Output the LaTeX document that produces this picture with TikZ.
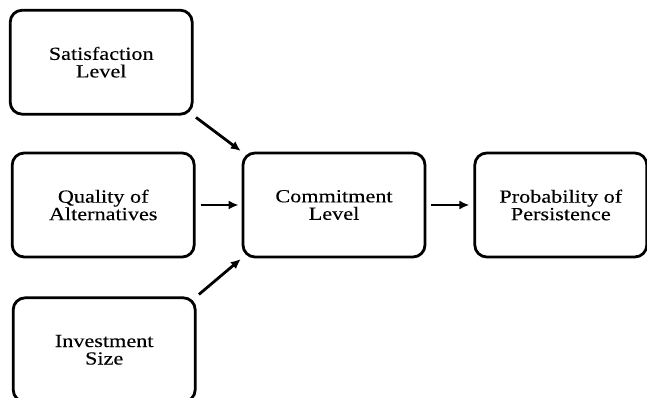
\documentclass[tikz,border=0pt]{standalone}
\usepackage{fontspec}
\setmainfont{Liberation Serif}
\newfontfamily\boxfont[FakeStretch=1.2, FakeBold=0.2]{Liberation Serif}
\usepackage{tikz}
\usetikzlibrary{arrows.meta, positioning}

\begin{document}
\begin{tikzpicture}[
  box/.style={draw, line width=2.8pt, rounded corners=12pt, minimum width=182pt, minimum height=104pt, align=center, font=\boxfont\fontsize{18.5}{17.5}\selectfont},
  outbox/.style={box, minimum width=172pt},
  arr/.style={-{Latex[length=10pt, width=9pt]}, line width=2.8pt},
]
\useasboundingbox (0,0) rectangle (647pt,398pt);

% Centre
\node[box] (commit) at (334pt,193pt) {Commitment\\Level};

% Inputs
\node[box, above left=36pt and 48pt of commit] (sat) {Satisfaction\\Level};
\node[box, left=46pt of commit] (qual) {Quality of\\Alternatives};
\node[box, below left=38pt and 45pt of commit] (inv) {Investment\\Size};

% Outcome
\node[outbox, right=47pt of commit] (prob) {Probability of\\Persistence};

% Arrows
\draw[arr, shorten <=3pt, shorten >=1pt] (sat.south east) -- (commit.north west);
\draw[arr, shorten <=5pt, shorten >=3pt] (qual.east) -- (commit.west);
\draw[arr, shorten <=3pt, shorten >=1pt] (inv.north east) -- (commit.south west);
\draw[arr, shorten <=5pt, shorten >=4pt] (commit.east) -- (prob.west);

\end{tikzpicture}
\end{document}
